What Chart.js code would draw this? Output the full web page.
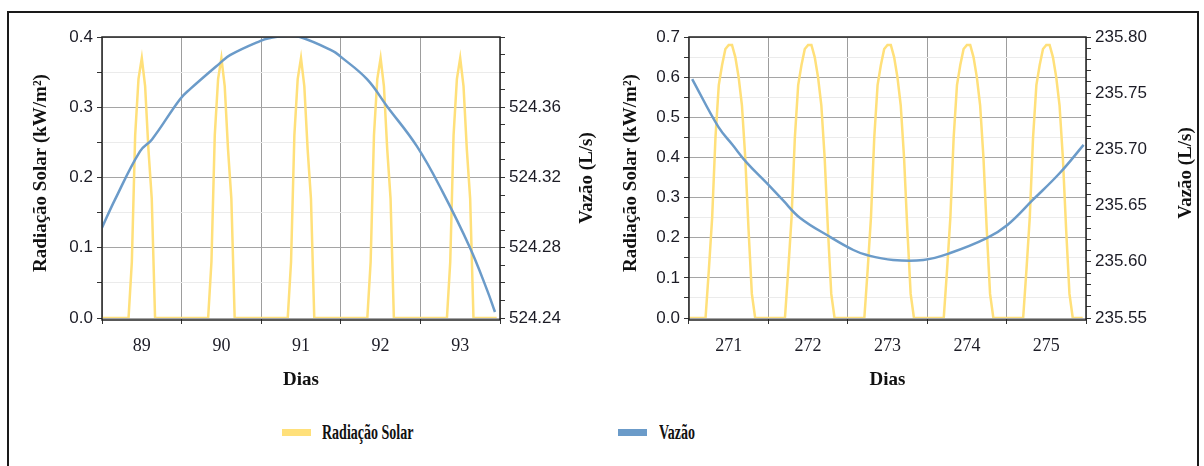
<!DOCTYPE html>
<html>
<head>
<meta charset="utf-8">
<script src="https://cdn.jsdelivr.net/npm/chart.js@4.4.0/dist/chart.umd.min.js"></script>
<style>
  html, body { margin: 0; padding: 0; background: #fff; }
  body { width: 1204px; height: 466px; position: relative; overflow: hidden; }
  #frame { position: absolute; left: 7px; top: 11px; width: 1192px; height: 480px; border: 2px solid #1a1a1a; box-sizing: border-box; }
  canvas { position: absolute; top: 0; }
  #chartLeft { left: 0; }
  #chartRight { left: 600px; }
  .swatch { position: absolute; top: 429px; width: 29px; height: 7px; }
  .legendText { position: absolute; top: 420px; font: bold 20px "Liberation Serif", serif; color: #111;
                line-height: 24px; white-space: nowrap; transform: scaleX(0.7); transform-origin: left center; }
</style>
</head>
<body>
<div id="frame"></div>
<canvas id="chartLeft" width="600" height="400"></canvas>
<canvas id="chartRight" width="604" height="400"></canvas>
<div class="swatch" style="left:282px;background:#ffe07a"></div>
<div class="legendText" style="left:322px">Radiação Solar</div>
<div class="swatch" style="left:618px;background:#6b9bc9"></div>
<div class="legendText" style="left:659px">Vazão</div>

<script>
// Dias (rótulos do eixo X)
const diasEsq = [89, 90, 91, 92, 93];
const diasDir = [271, 272, 273, 274, 275];
const horas = [0, 1, 2, 3, 4, 5, 6, 7, 8, 9, 10, 11, 12, 13, 14, 15, 16, 17, 18, 19, 20, 21, 22, 23];

// Radiação solar horária (kW/m²), um vetor por dia
const radiacaoEsq = [
    [0, 0, 0, 0, 0, 0, 0, 0, 0, 0.08, 0.26, 0.34, 0.37, 0.33, 0.24, 0.17, 0, 0, 0, 0, 0, 0, 0, 0],
    [0, 0, 0, 0, 0, 0, 0, 0, 0, 0.08, 0.26, 0.34, 0.37, 0.33, 0.24, 0.17, 0, 0, 0, 0, 0, 0, 0, 0],
    [0, 0, 0, 0, 0, 0, 0, 0, 0, 0.08, 0.26, 0.34, 0.37, 0.33, 0.24, 0.17, 0, 0, 0, 0, 0, 0, 0, 0],
    [0, 0, 0, 0, 0, 0, 0, 0, 0, 0.08, 0.26, 0.34, 0.37, 0.33, 0.24, 0.17, 0, 0, 0, 0, 0, 0, 0, 0],
    [0, 0, 0, 0, 0, 0, 0, 0, 0, 0.08, 0.26, 0.34, 0.37, 0.33, 0.24, 0.17, 0, 0, 0, 0, 0, 0, 0, 0]
];
const radiacaoDir = [
    [0, 0, 0, 0, 0, 0, 0.12, 0.25, 0.45, 0.58, 0.63, 0.67, 0.68, 0.68, 0.65, 0.6, 0.53, 0.4, 0.22, 0.06, 0, 0, 0, 0],
    [0, 0, 0, 0, 0, 0, 0.12, 0.25, 0.45, 0.58, 0.63, 0.67, 0.68, 0.68, 0.65, 0.6, 0.53, 0.4, 0.22, 0.06, 0, 0, 0, 0],
    [0, 0, 0, 0, 0, 0, 0.12, 0.25, 0.45, 0.58, 0.63, 0.67, 0.68, 0.68, 0.65, 0.6, 0.53, 0.4, 0.22, 0.06, 0, 0, 0, 0],
    [0, 0, 0, 0, 0, 0, 0.12, 0.25, 0.45, 0.58, 0.63, 0.67, 0.68, 0.68, 0.65, 0.6, 0.53, 0.4, 0.22, 0.06, 0, 0, 0, 0],
    [0, 0, 0, 0, 0, 0, 0.12, 0.25, 0.45, 0.58, 0.63, 0.67, 0.68, 0.68, 0.65, 0.6, 0.53, 0.4, 0.22, 0.06, 0, 0, 0, 0]
];

// Vazão (L/s)
const vazaoEsqDias = [88.500, 88.663, 88.977, 89.128, 89.480, 89.606, 89.982, 90.108, 90.485, 90.611, 90.799,
                      90.987, 91.402, 91.490, 91.829, 92.080, 92.457, 92.784, 93.123, 93.337, 93.437];
const vazaoEsq = [524.2914, 524.3074, 524.3349, 524.3417, 524.3646, 524.3703, 524.3851, 524.3897, 524.3977, 524.3994, 524.4006,
                  524.4000, 524.3920, 524.3891, 524.3760, 524.3606, 524.3377, 524.3114, 524.2800, 524.2560, 524.2434];
const vazaoDirDias = [270.54, 270.87, 271.05, 271.23, 271.48, 271.68, 271.90, 272.28, 272.57,
                      272.74, 273.07, 273.45, 273.79, 274.25, 274.51, 274.83, 275.17, 275.47];
const vazaoDir = [235.7626, 235.7200, 235.7039, 235.6880, 235.6700, 235.6550, 235.6390, 235.6220, 235.6105,
                  235.6060, 235.6016, 235.6016, 235.6078, 235.6210, 235.6327, 235.6550, 235.6790, 235.7040];

// Rótulos dos eixos Y
const radEsqLabels = [0, 0.1, 0.2, 0.3, 0.4];
const radDirLabels = [0, 0.1, 0.2, 0.3, 0.4, 0.5, 0.6, 0.7];
const vazaoEsqLabels = [524.24, 524.28, 524.32, 524.36];
const vazaoDirLabels = [235.55, 235.60, 235.65, 235.70, 235.75, 235.80];

const amarelo = '#ffe07a';
const azul = '#6b9bc9';
const corTexto = '#1c1c26';

function radiacaoPontos(dias, valores) {
    const pts = [];
    dias.forEach((dia, i) => {
        valores[i].forEach((v, h) => pts.push({ x: dia - 0.5 + horas[h] / 24, y: v }));
    });
    return pts;
}

function vazaoPontos(dias, valores) {
    return dias.map((d, i) => ({ x: d, y: valores[i] }));
}

function temRotulo(lista, v) {
    return lista.some(l => Math.abs(l - v) < 1e-6);
}

// Moldura da área do gráfico (a base fica um pouco abaixo, deixando a linha amarela do zero visível)
const moldura = {
    id: 'moldura',
    afterDatasetsDraw(chart) {
        const { ctx, chartArea: a } = chart;
        ctx.save();
        ctx.strokeStyle = '#222';
        ctx.lineWidth = 1.5;
        ctx.strokeRect(a.left, a.top, a.right - a.left, a.bottom - a.top + 2);
        ctx.restore();
    }
};

// Títulos dos eixos (o da direita lê de baixo para cima)
const titulos = {
    id: 'titulos',
    afterDraw(chart, args, opts) {
        const { ctx, chartArea: a } = chart;
        ctx.save();
        ctx.fillStyle = '#111';
        ctx.font = 'bold 19px "Liberation Serif", serif';
        ctx.textAlign = 'center';
        ctx.textBaseline = 'middle';
        ctx.fillText('Dias', (a.left + a.right) / 2, opts.xY);
        [[opts.esqX, opts.esqY, 'Radiação Solar (kW/m²)'], [opts.dirX, opts.dirY, 'Vazão (L/s)']].forEach(t => {
            ctx.save();
            ctx.translate(t[0], t[1]);
            ctx.rotate(-Math.PI / 2);
            ctx.fillText(t[2], 0, 0);
            ctx.restore();
        });
        ctx.restore();
    }
};

function criarGrafico(id, cfg) {
    return new Chart(document.getElementById(id), {
        type: 'line',
        data: {
            datasets: [{
                label: 'Vazão',
                data: vazaoPontos(cfg.vazaoDias, cfg.vazao),
                yAxisID: 'y2',
                borderColor: azul,
                borderWidth: 2.5,
                pointRadius: 0,
                tension: 0.4,
                order: 0
            }, {
                label: 'Radiação Solar',
                data: radiacaoPontos(cfg.dias, cfg.radiacao),
                yAxisID: 'y',
                borderColor: amarelo,
                borderWidth: 2.5,
                pointRadius: 0,
                tension: 0,
                order: 1
            }]
        },
        options: {
            responsive: false,
            animation: false,
            layout: { padding: { top: 37, left: 0, right: 0, bottom: 0 } },
            plugins: {
                legend: { display: false },
                tooltip: { enabled: false },
                titulos: cfg.titulos
            },
            scales: {
                x: {
                    type: 'linear',
                    min: cfg.dias[0] - 0.5,
                    max: cfg.dias[cfg.dias.length - 1] + 0.5,
                    afterFit: s => { s.height = 82; },
                    afterBuildTicks: s => { s.ticks = cfg.dias.map(d => ({ value: d })); },
                    border: { display: false },
                    grid: { offset: true, color: '#9d9d9d', tickColor: '#333', tickLength: 6 },
                    ticks: {
                        autoSkip: false,
                        maxRotation: 0,
                        padding: 11,
                        color: corTexto,
                        font: { family: '"Liberation Serif", serif', size: 18 },
                        callback: v => String(v)
                    }
                },
                y: {
                    min: 0,
                    max: cfg.radMax,
                    afterFit: s => { s.width = cfg.yWidth; },
                    border: { display: false },
                    grid: {
                        color: c => temRotulo(cfg.radLabels, c.tick.value) ? '#a5a5a5' : '#ebebeb',
                        tickColor: '#333',
                        tickLength: 5
                    },
                    ticks: {
                        stepSize: 0.05,
                        autoSkip: false,
                        padding: 4,
                        color: corTexto,
                        font: { family: '"Liberation Sans", Arial, sans-serif', size: 17 },
                        callback: v => temRotulo(cfg.radLabels, v) ? v.toFixed(1) : ''
                    }
                },
                y2: {
                    position: 'right',
                    min: cfg.vazaoMin,
                    max: cfg.vazaoMax,
                    afterFit: s => { s.width = cfg.y2Width; },
                    border: { display: false },
                    grid: { drawOnChartArea: false, tickColor: '#333', tickLength: 5 },
                    ticks: {
                        stepSize: 0.01,
                        autoSkip: false,
                        padding: 4,
                        color: corTexto,
                        font: { family: '"Liberation Sans", Arial, sans-serif', size: 17 },
                        callback: v => temRotulo(cfg.vazaoLabels, v) ? v.toFixed(2) : ''
                    }
                }
            }
        },
        plugins: [moldura, titulos]
    });
}

document.addEventListener('DOMContentLoaded', function() {
    criarGrafico('chartLeft', {
        dias: diasEsq, radiacao: radiacaoEsq, vazaoDias: vazaoEsqDias, vazao: vazaoEsq,
        radMax: 0.4, radLabels: radEsqLabels,
        vazaoMin: 524.24, vazaoMax: 524.40, vazaoLabels: vazaoEsqLabels,
        yWidth: 102, y2Width: 100,
        titulos: { xY: 380, esqX: 41, esqY: 173, dirX: 587, dirY: 178 }
    });
    criarGrafico('chartRight', {
        dias: diasDir, radiacao: radiacaoDir, vazaoDias: vazaoDirDias, vazao: vazaoDir,
        radMax: 0.7, radLabels: radDirLabels,
        vazaoMin: 235.55, vazaoMax: 235.80, vazaoLabels: vazaoDirLabels,
        yWidth: 89, y2Width: 118,
        titulos: { xY: 380, esqX: 31, esqY: 173, dirX: 586, dirY: 173 }
    });
});
</script>
</body>
</html>
